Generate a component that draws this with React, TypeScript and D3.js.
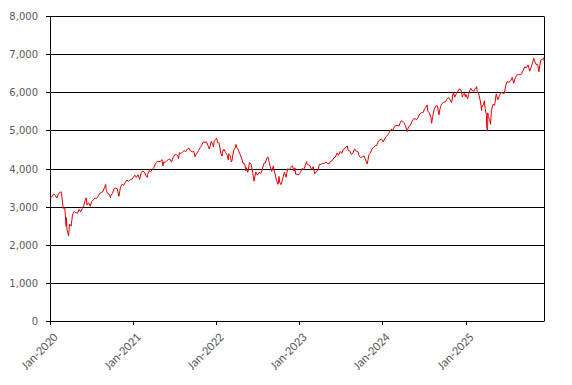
import React, { useRef, useEffect } from "react";
import * as d3 from "d3";

// weekly closes (plus a few intraweek extremes)
const data2020: [string, number][] = [
  ["2020-01-02", 3258], ["2020-01-03", 3235], ["2020-01-10", 3265], ["2020-01-17", 3330], ["2020-01-24", 3295],
  ["2020-01-31", 3226], ["2020-02-07", 3328], ["2020-02-14", 3380], ["2020-02-19", 3386], ["2020-02-21", 3338],
  ["2020-02-28", 2954], ["2020-03-06", 2972], ["2020-03-12", 2481], ["2020-03-13", 2711], ["2020-03-16", 2386],
  ["2020-03-20", 2305], ["2020-03-23", 2237], ["2020-03-27", 2541], ["2020-04-03", 2489], ["2020-04-09", 2790],
  ["2020-04-17", 2875], ["2020-04-24", 2837], ["2020-05-01", 2831], ["2020-05-08", 2930], ["2020-05-15", 2864],
  ["2020-05-22", 2955], ["2020-05-29", 3044], ["2020-06-05", 3194], ["2020-06-08", 3232], ["2020-06-12", 3041],
  ["2020-06-19", 3098], ["2020-06-26", 3009], ["2020-07-02", 3130], ["2020-07-10", 3185], ["2020-07-17", 3225],
  ["2020-07-24", 3216], ["2020-07-31", 3271], ["2020-08-07", 3351], ["2020-08-14", 3373], ["2020-08-21", 3397],
  ["2020-08-28", 3508], ["2020-09-02", 3580], ["2020-09-04", 3427], ["2020-09-11", 3341], ["2020-09-18", 3319],
  ["2020-09-23", 3237], ["2020-09-25", 3298], ["2020-10-02", 3348], ["2020-10-09", 3477], ["2020-10-16", 3484],
  ["2020-10-23", 3465], ["2020-10-30", 3270], ["2020-11-06", 3510], ["2020-11-13", 3585], ["2020-11-20", 3558],
  ["2020-11-27", 3638], ["2020-12-04", 3699], ["2020-12-11", 3663], ["2020-12-18", 3709], ["2020-12-24", 3703],
  ["2020-12-31", 3756],
];

const data2021: [string, number][] = [
  ["2021-01-08", 3825], ["2021-01-15", 3768], ["2021-01-22", 3841], ["2021-01-29", 3714], ["2021-02-05", 3887],
  ["2021-02-12", 3934], ["2021-02-19", 3907], ["2021-02-26", 3811], ["2021-03-04", 3768], ["2021-03-05", 3842],
  ["2021-03-12", 3943], ["2021-03-19", 3913], ["2021-03-26", 3975], ["2021-04-01", 4020], ["2021-04-09", 4129],
  ["2021-04-16", 4185], ["2021-04-23", 4180], ["2021-04-30", 4181], ["2021-05-07", 4233], ["2021-05-12", 4063],
  ["2021-05-14", 4174], ["2021-05-21", 4156], ["2021-05-28", 4204], ["2021-06-04", 4230], ["2021-06-11", 4247],
  ["2021-06-18", 4166], ["2021-06-25", 4281], ["2021-07-02", 4352], ["2021-07-09", 4370], ["2021-07-16", 4327],
  ["2021-07-19", 4258], ["2021-07-23", 4412], ["2021-07-30", 4395], ["2021-08-06", 4437], ["2021-08-13", 4468],
  ["2021-08-20", 4442], ["2021-08-27", 4509], ["2021-09-03", 4535], ["2021-09-10", 4459], ["2021-09-17", 4433],
  ["2021-09-24", 4455], ["2021-09-30", 4308], ["2021-10-01", 4357], ["2021-10-08", 4391], ["2021-10-15", 4471],
  ["2021-10-22", 4545], ["2021-10-29", 4605], ["2021-11-05", 4697], ["2021-11-12", 4683], ["2021-11-19", 4698],
  ["2021-11-26", 4595], ["2021-12-01", 4513], ["2021-12-03", 4538], ["2021-12-10", 4712], ["2021-12-17", 4620],
  ["2021-12-20", 4568], ["2021-12-23", 4726], ["2021-12-31", 4766],
];

const data2022: [string, number][] = [
  ["2022-01-03", 4796], ["2022-01-07", 4677], ["2022-01-14", 4663], ["2022-01-21", 4398], ["2022-01-27", 4326],
  ["2022-01-28", 4432], ["2022-02-04", 4501], ["2022-02-11", 4419], ["2022-02-18", 4349], ["2022-02-23", 4225],
  ["2022-02-25", 4385], ["2022-03-04", 4329], ["2022-03-08", 4171], ["2022-03-11", 4204], ["2022-03-18", 4463],
  ["2022-03-25", 4543], ["2022-03-29", 4632], ["2022-04-01", 4546], ["2022-04-08", 4488], ["2022-04-14", 4393],
  ["2022-04-22", 4272], ["2022-04-29", 4132], ["2022-05-06", 4123], ["2022-05-11", 3935], ["2022-05-13", 4024],
  ["2022-05-20", 3901], ["2022-05-27", 4158], ["2022-06-03", 4109], ["2022-06-10", 3901], ["2022-06-16", 3667],
  ["2022-06-24", 3912], ["2022-07-01", 3825], ["2022-07-08", 3899], ["2022-07-15", 3863], ["2022-07-22", 3962],
  ["2022-07-29", 4130], ["2022-08-05", 4145], ["2022-08-12", 4280], ["2022-08-16", 4305], ["2022-08-19", 4228],
  ["2022-08-26", 4058], ["2022-09-02", 3924], ["2022-09-09", 4067], ["2022-09-13", 3932], ["2022-09-16", 3873],
  ["2022-09-23", 3693], ["2022-09-30", 3586], ["2022-10-04", 3791], ["2022-10-07", 3640], ["2022-10-12", 3577],
  ["2022-10-14", 3583], ["2022-10-21", 3752], ["2022-10-28", 3901], ["2022-11-04", 3771], ["2022-11-11", 3993],
  ["2022-11-18", 3965], ["2022-11-25", 4026], ["2022-12-02", 4072], ["2022-12-09", 3934], ["2022-12-13", 4019],
  ["2022-12-16", 3852], ["2022-12-23", 3845], ["2022-12-30", 3840],
];

const data2023: [string, number][] = [
  ["2023-01-06", 3895], ["2023-01-13", 3999], ["2023-01-20", 3973], ["2023-01-27", 4071], ["2023-02-02", 4180],
  ["2023-02-03", 4136], ["2023-02-10", 4090], ["2023-02-17", 4079], ["2023-02-24", 3970], ["2023-03-03", 4046],
  ["2023-03-10", 3862], ["2023-03-17", 3917], ["2023-03-24", 3971], ["2023-03-31", 4109], ["2023-04-06", 4105],
  ["2023-04-14", 4138], ["2023-04-21", 4134], ["2023-04-28", 4169], ["2023-05-05", 4136], ["2023-05-12", 4124],
  ["2023-05-19", 4192], ["2023-05-26", 4205], ["2023-06-02", 4282], ["2023-06-09", 4299], ["2023-06-16", 4410],
  ["2023-06-23", 4348], ["2023-06-30", 4450], ["2023-07-07", 4399], ["2023-07-14", 4505], ["2023-07-21", 4536],
  ["2023-07-31", 4589], ["2023-08-04", 4478], ["2023-08-11", 4464], ["2023-08-18", 4370], ["2023-08-25", 4406],
  ["2023-09-01", 4516], ["2023-09-08", 4457], ["2023-09-15", 4450], ["2023-09-22", 4320], ["2023-09-29", 4288],
  ["2023-10-06", 4309], ["2023-10-13", 4328], ["2023-10-20", 4224], ["2023-10-27", 4117], ["2023-11-03", 4358],
  ["2023-11-10", 4415], ["2023-11-17", 4514], ["2023-11-24", 4559], ["2023-12-01", 4595], ["2023-12-08", 4604],
  ["2023-12-15", 4719], ["2023-12-22", 4755], ["2023-12-29", 4770],
];

const data2024: [string, number][] = [
  ["2024-01-05", 4697], ["2024-01-12", 4784], ["2024-01-19", 4840], ["2024-01-26", 4891], ["2024-02-02", 4959],
  ["2024-02-09", 5027], ["2024-02-16", 5006], ["2024-02-23", 5089], ["2024-03-01", 5137], ["2024-03-08", 5124],
  ["2024-03-15", 5117], ["2024-03-22", 5234], ["2024-03-28", 5254], ["2024-04-05", 5204], ["2024-04-12", 5123],
  ["2024-04-19", 4967], ["2024-04-26", 5100], ["2024-05-03", 5128], ["2024-05-10", 5223], ["2024-05-17", 5303],
  ["2024-05-24", 5305], ["2024-05-31", 5278], ["2024-06-07", 5347], ["2024-06-14", 5432], ["2024-06-21", 5465],
  ["2024-06-28", 5460], ["2024-07-05", 5567], ["2024-07-12", 5615], ["2024-07-16", 5667], ["2024-07-19", 5505],
  ["2024-07-26", 5459], ["2024-08-02", 5346], ["2024-08-05", 5186], ["2024-08-09", 5344], ["2024-08-16", 5554],
  ["2024-08-23", 5634], ["2024-08-30", 5648], ["2024-09-06", 5408], ["2024-09-13", 5626], ["2024-09-20", 5703],
  ["2024-09-27", 5738], ["2024-10-04", 5751], ["2024-10-11", 5815], ["2024-10-18", 5864], ["2024-10-25", 5808],
  ["2024-11-01", 5729], ["2024-11-08", 5996], ["2024-11-15", 5870], ["2024-11-22", 5969], ["2024-11-29", 6032],
  ["2024-12-06", 6090], ["2024-12-13", 6051], ["2024-12-18", 5872], ["2024-12-20", 5931], ["2024-12-27", 5971],
  ["2024-12-31", 5882],
];

const data2025: [string, number][] = [
  ["2025-01-03", 5942], ["2025-01-10", 5827], ["2025-01-17", 5997], ["2025-01-24", 6101], ["2025-01-31", 6041],
  ["2025-02-07", 6026], ["2025-02-14", 6115], ["2025-02-19", 6144], ["2025-02-21", 6013], ["2025-02-28", 5955],
  ["2025-03-07", 5770], ["2025-03-13", 5522], ["2025-03-14", 5639], ["2025-03-21", 5668], ["2025-03-25", 5776],
  ["2025-03-28", 5581], ["2025-04-03", 5397], ["2025-04-04", 5074], ["2025-04-08", 4982], ["2025-04-09", 5457],
  ["2025-04-11", 5363], ["2025-04-17", 5283], ["2025-04-21", 5158], ["2025-04-25", 5525], ["2025-05-02", 5686],
  ["2025-05-09", 5660], ["2025-05-16", 5958], ["2025-05-23", 5803], ["2025-05-30", 5912], ["2025-06-06", 6000],
  ["2025-06-13", 5977], ["2025-06-20", 5968], ["2025-06-27", 6173], ["2025-07-03", 6279], ["2025-07-11", 6260],
  ["2025-07-18", 6297], ["2025-07-25", 6389], ["2025-08-01", 6238], ["2025-08-08", 6389], ["2025-08-15", 6449],
  ["2025-08-22", 6467], ["2025-08-29", 6460], ["2025-09-05", 6482], ["2025-09-12", 6584], ["2025-09-19", 6664],
  ["2025-09-26", 6644], ["2025-10-03", 6716], ["2025-10-10", 6553], ["2025-10-17", 6664], ["2025-10-24", 6792],
  ["2025-10-28", 6891], ["2025-10-31", 6840], ["2025-11-07", 6728], ["2025-11-14", 6734], ["2025-11-20", 6538],
  ["2025-11-21", 6603], ["2025-11-28", 6849], ["2025-12-05", 6870], ["2025-12-11", 6901], ["2025-12-12", 6827],
];

const yTicks = [0, 1000, 2000, 3000, 4000, 5000, 6000, 7000, 8000];
const xTickYears = [2020, 2021, 2022, 2023, 2024, 2025];

const App: React.FC = () => {
  const svgRef = useRef<SVGSVGElement>(null);

  useEffect(() => {
    document.body.style.margin = "0";
    const width = 572;
    const height = 385;
    const margin = { top: 16, right: 28, bottom: 64, left: 50 };

    const parse = d3.timeParse("%Y-%m-%d");
    const series = [...data2020, ...data2021, ...data2022, ...data2023, ...data2024, ...data2025].map(
      ([d, v]) => ({ date: parse(d) as Date, value: v })
    );

    const x = d3
      .scaleTime()
      .domain([new Date(2020, 0, 1), new Date(2025, 11, 12)])
      .range([margin.left, width - margin.right]);
    const y = d3
      .scaleLinear()
      .domain([0, 8000])
      .range([height - margin.bottom, margin.top]);

    const svg = d3.select(svgRef.current);
    svg.selectAll("*").remove();

    const font = "'DejaVu Sans', Verdana, sans-serif";

    // horizontal gridlines
    svg
      .append("g")
      .selectAll("line")
      .data(yTicks)
      .enter()
      .append("line")
      .attr("x1", margin.left - 4)
      .attr("x2", width - margin.right)
      .attr("y1", (d) => Math.round(y(d)) + 0.5)
      .attr("y2", (d) => Math.round(y(d)) + 0.5)
      .attr("stroke", "#000")
      .attr("stroke-width", 1);

    // left and right borders
    [margin.left, width - margin.right].forEach((px) => {
      svg
        .append("line")
        .attr("x1", Math.round(px) + 0.5)
        .attr("x2", Math.round(px) + 0.5)
        .attr("y1", Math.round(y(8000)) + 0.5)
        .attr("y2", Math.round(y(0)) + 0.5)
        .attr("stroke", "#000");
    });

    // y labels
    svg
      .append("g")
      .selectAll("text")
      .data(yTicks)
      .enter()
      .append("text")
      .attr("x", margin.left - 12)
      .attr("y", (d) => y(d) + 4)
      .attr("text-anchor", "end")
      .style("font-family", font)
      .style("font-size", "10px")
      .style("fill", "#595959")
      .text((d) => d3.format(",")(d));

    // x ticks and labels
    const xg = svg.append("g");
    xTickYears.forEach((yr) => {
      const px = Math.round(x(new Date(yr, 0, 1))) + 0.5;
      xg.append("line")
        .attr("x1", px)
        .attr("x2", px)
        .attr("y1", y(0))
        .attr("y2", y(0) + 4)
        .attr("stroke", "#000");
      xg.append("text")
        .attr("transform", `translate(${px + 5},${y(0) + 14}) rotate(-45)`)
        .attr("text-anchor", "end")
        .attr("dy", "0.35em")
        .style("font-family", "Calibri, Carlito, 'Open Sans', sans-serif")
        .style("font-size", "12.5px")
        .style("fill", "#595959")
        .text(`Jan-${yr}`);
    });

    const line = d3
      .line<{ date: Date; value: number }>()
      .x((d) => x(d.date))
      .y((d) => y(d.value));

    svg
      .append("path")
      .datum(series)
      .attr("d", line)
      .attr("fill", "none")
      .attr("stroke", "#e60000")
      .attr("stroke-width", 1)
      .attr("stroke-linejoin", "round");
  }, []);

  return <svg ref={svgRef} width={572} height={385} style={{ display: "block" }}></svg>;
};

export default App;
